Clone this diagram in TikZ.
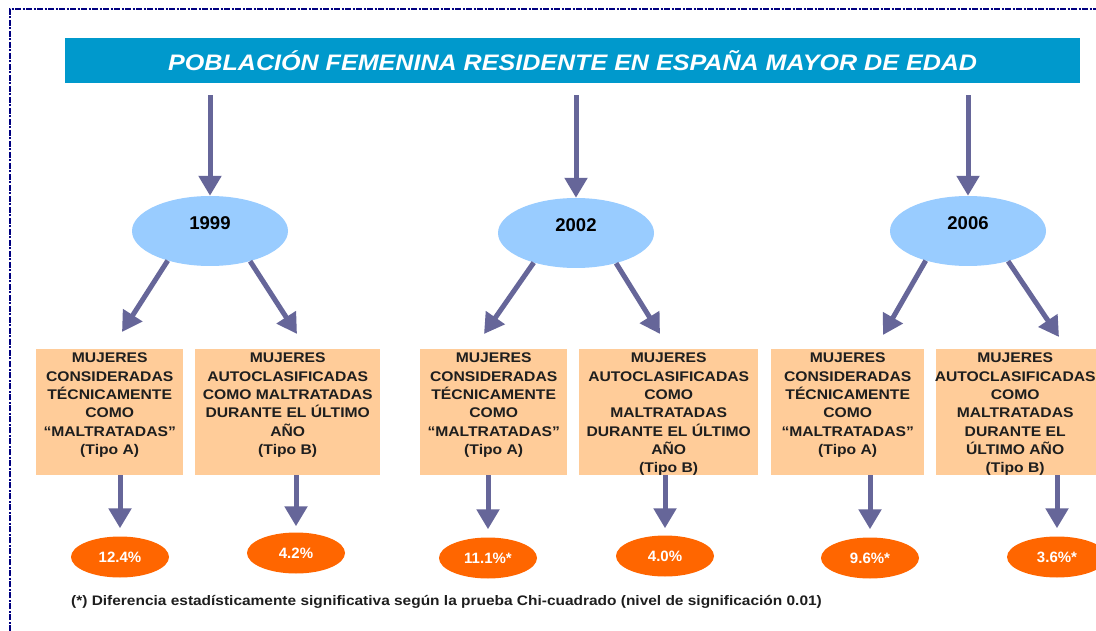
\documentclass[tikz,border=0pt]{standalone}
\usepackage{fontspec}
\setmainfont{Liberation Sans}
\newfontfamily\widefont[FakeStretch=1.12]{Liberation Sans}
\usetikzlibrary{arrows.meta,shapes.geometric}
\definecolor{barblue}{RGB}{0,153,204}
\definecolor{arrowc}{RGB}{102,102,153}
\definecolor{yearblue}{RGB}{153,204,255}
\definecolor{peach}{RGB}{255,204,153}
\definecolor{orangec}{RGB}{255,102,0}
\definecolor{navyc}{RGB}{0,0,128}
\definecolor{txtc}{RGB}{30,30,30}
\begin{document}
\begin{tikzpicture}[x=1pt,y=-1pt,
  arr/.style={draw=arrowc,line width=5pt,-{Triangle[width=22pt,length=20pt]}},
  titlebar/.style={fill=barblue,draw=none,inner sep=0pt,text=white,font=\widefont\fontsize{22.4}{24}\selectfont\bfseries\itshape},
  yearell/.style={ellipse,fill=yearblue,draw=none,minimum width=156,minimum height=70,inner sep=0pt},
  yeartxt/.style={font=\fontsize{18.5}{20}\selectfont\bfseries,text=black,inner sep=0pt},
  peachbox/.style={rectangle,fill=peach,draw=none,minimum height=126,inner sep=0pt,anchor=north west},
  boxtxt/.style={anchor=north,inner sep=0pt,align=center,text=txtc,font=\widefont\fontsize{14}{18.3}\selectfont\bfseries},
  pct/.style={ellipse,fill=orangec,draw=none,minimum width=98,minimum height=41,inner sep=0pt,text=white,font=\fontsize{15}{16}\selectfont\bfseries},
  note/.style={anchor=west,inner sep=0pt,text=txtc,font=\widefont\fontsize{13.8}{16}\selectfont\bfseries},
  frameline/.style={draw=navyc,line width=2pt,dash pattern=on 6pt off 1.5pt on 2pt off 1.5pt}
]
\useasboundingbox (0,0) rectangle (1096,631);
\fill[white] (0,0) rectangle (1096,631);
\begin{scope}
\clip (0,0) rectangle (1096,631);

% frame
\coordinate (fA) at (10,631);
\coordinate (fB) at (10,9);
\coordinate (fC) at (1096,9);
\draw[frameline] (fA) -- (fB) -- (fC);

% title
\node[titlebar,minimum width=1015,minimum height=45,anchor=north west] (title) at (65,38) {POBLACIÓN FEMENINA RESIDENTE EN ESPAÑA MAYOR DE EDAD};

% year ellipses
\node[yearell] (e1999) at (210,231) {};
\node[yearell] (e2002) at (576,233) {};
\node[yearell] (e2006) at (968,231) {};
\node[yeartxt,yshift=8pt] (t1999) at (e1999.center) {1999};
\node[yeartxt,yshift=8pt] (t2002) at (e2002.center) {2002};
\node[yeartxt,yshift=8pt] (t2006) at (e2006.center) {2006};

\draw[arr,shorten <=12pt] (title.south -| e1999.north) -- (e1999.north);
\draw[arr,shorten <=12pt] (title.south -| e2002.north) -- (e2002.north);
\draw[arr,shorten <=12pt] (title.south -| e2006.north) -- (e2006.north);

% boxes
\node[peachbox,minimum width=147] (b1) at (36,349) {};
\node[peachbox,minimum width=185] (b2) at (195,349) {};
\node[peachbox,minimum width=147] (b3) at (420,349) {};
\node[peachbox,minimum width=179] (b4) at (579,349) {};
\node[peachbox,minimum width=153] (b5) at (771,349) {};
\node[peachbox,minimum width=178] (b6) at (936,349) {};

\node[boxtxt] (x1) at ([yshift=-4pt]b1.north) {MUJERES\\CONSIDERADAS\\TÉCNICAMENTE\\COMO\\“MALTRATADAS”\\(Tipo A)};
\node[boxtxt] (x2) at ([yshift=-4pt]b2.north) {MUJERES\\AUTOCLASIFICADAS\\COMO MALTRATADAS\\DURANTE EL ÚLTIMO\\AÑO\\(Tipo B)};
\node[boxtxt] (x3) at ([yshift=-4pt]b3.north) {MUJERES\\CONSIDERADAS\\TÉCNICAMENTE\\COMO\\“MALTRATADAS”\\(Tipo A)};
\node[boxtxt] (x4) at ([yshift=-4pt]b4.north) {MUJERES\\AUTOCLASIFICADAS\\COMO\\MALTRATADAS\\DURANTE EL ÚLTIMO\\AÑO\\(Tipo B)};
\node[boxtxt] (x5) at ([yshift=-4pt]b5.north) {MUJERES\\CONSIDERADAS\\TÉCNICAMENTE\\COMO\\“MALTRATADAS”\\(Tipo A)};
\node[boxtxt] (x6) at ([xshift=-10pt,yshift=-4pt]b6.north) {MUJERES\\AUTOCLASIFICADAS\\COMO\\MALTRATADAS\\DURANTE EL\\ÚLTIMO AÑO\\(Tipo B)};

% diagonal arrows
\coordinate (d1L) at (122,332);
\coordinate (d1R) at (297,334);
\coordinate (d2L) at (484,334);
\coordinate (d2R) at (660,334);
\coordinate (d3L) at (883,335);
\coordinate (d3R) at (1059,337);
\draw[arr] (e1999.215) -- (d1L);
\draw[arr] (e1999.323) -- (d1R);
\draw[arr] (e2002.215) -- (d2L);
\draw[arr] (e2002.323) -- (d2R);
\draw[arr] (e2006.215) -- (d3L);
\draw[arr] (e2006.323) -- (d3R);

% percentages
\node[pct] (p1) at (120,557) {12.4\%};
\node[pct] (p2) at (296,553) {4.2\%};
\node[pct] (p3) at (488,558) {11.1\%*};
\node[pct] (p4) at (665,556) {4.0\%};
\node[pct] (p5) at (870,558) {9.6\%*};
\node[pct,minimum width=100] (p6) at (1057,557) {3.6\%*};

\draw[arr,shorten >=8pt] (b1.south -| p1.north) -- (p1.north);
\draw[arr,shorten >=6pt] (b2.south -| p2.north) -- (p2.north);
\draw[arr,shorten >=8pt] (b3.south -| p3.north) -- (p3.north);
\draw[arr,shorten >=7pt] (b4.south -| p4.north) -- (p4.north);
\draw[arr,shorten >=8pt] (b5.south -| p5.north) -- (p5.north);
\draw[arr,shorten >=8pt] (b6.south -| p6.north) -- (p6.north);

% footnote
\node[note] (fn) at (71,602) {(*) Diferencia estadísticamente significativa según la prueba Chi-cuadrado (nivel de significación 0.01)};
\end{scope}
\end{tikzpicture}
\end{document}
